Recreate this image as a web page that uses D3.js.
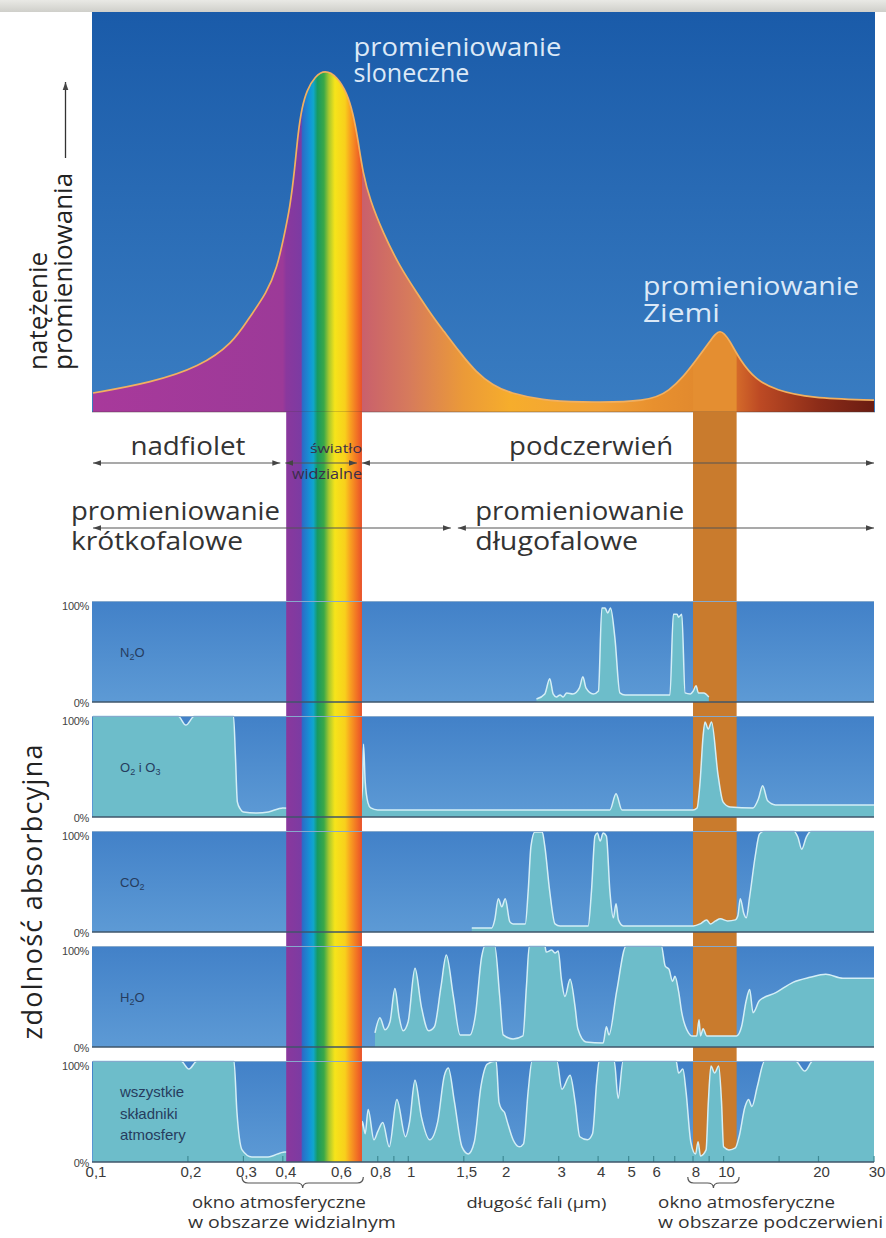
<!DOCTYPE html>
<html><head><meta charset="utf-8">
<script src="https://cdn.jsdelivr.net/npm/d3@7"></script>
<style>html,body{margin:0;padding:0;background:#fff}svg{display:block}</style>
</head><body>
<svg id="chart" width="886" height="1238"></svg>
<script>
// ---------------- data (wavelength in µm, values in %) ----------------
const tickValues = [0.1,0.2,0.3,0.4,0.6,0.8,1,1.5,2,3,4,5,6,8,10,20,30];
const tickLabels = ["0,1","0,2","0,3","0,4","0,6","0,8","1","1,5","2","3","4","5","6","8","10","20","30"];
const minorTicks = [0.2,0.3,0.4,0.5,0.6,0.7,0.8,0.9,1,1.5,2,3,4,5,6,7,8,9,10,15,20,30];

const intensityWl  = [0.1,0.152,0.218,0.278,0.311,0.356,0.384,0.401,0.422,0.437,0.447,0.46,0.477,0.506,0.544,0.594,0.639,0.668,0.693,0.718,0.756,0.832,0.941,1.066,1.198,1.288,1.459,1.639,1.856,2.1,2.67,3.4,5.84,6.76,7.44,8.18,9.08,9.74,10.48,11.27,12.67,14.66,18.79,30];
const intensityVal = [5.6,8.6,13.3,20.4,27.5,35.1,42.8,50.7,60.5,72.3,82.3,89.9,95,99,101,99,94.1,88.2,80.2,70.5,62.5,52.8,42.8,35.1,28,24.2,17.5,11.8,7.8,5.6,3.5,2.9,2.9,6.5,10.3,15.3,21,25,21,15.3,9.4,6.5,4.1,3.5];

const n2oWl  = [2.55,2.71,2.81,2.88,2.95,3.03,3.10,3.18,3.33,3.49,3.58,3.66,3.86,4.01,4.11,4.21,4.29,4.38,4.52,4.69,4.87,6.76,6.93,7.12,7.20,7.37,7.55,7.84,8.02,8.18,8.32,8.65,8.98];
const n2oAbs = [3,8,23,8,5,7,5,9,8,14,25,14,8,11,93,93,88,93,64,9,7,7,87,87,84,87,9,8,11,16,9,9,5];

const o3Wl  = [0.1,0.186,0.197,0.21,0.279,0.283,0.287,0.293,0.30,0.33,0.36,0.40,0.50,0.70,0.716,0.721,0.73,0.745,0.76,0.80,4.36,4.56,4.76,8.0,8.24,8.42,8.61,8.73,8.94,9.16,9.6,9.96,10.48,12.4,12.9,13.3,13.8,14.6,30];
const o3Abs = [100,100,91,100,100,60,15,8,5,4,5,9,8,7,30,72,35,14,9,7,7,23,7,7,9,34,80,94,87,94,42,15,10,9,18,31,16,12,12];

const co2Wl  = [1.59,1.84,1.88,1.93,1.98,2.03,2.10,2.15,2.35,2.40,2.45,2.52,2.66,2.71,2.81,2.92,3.03,3.72,3.81,3.91,3.98,4.06,4.15,4.25,4.36,4.47,4.56,4.64,4.81,8.02,8.42,8.84,9.08,9.43,9.77,10.3,10.9,11.1,11.3,11.6,11.8,12.1,12.6,13.0,13.5,16.7,17.2,17.7,18.3,19.0,30];
const co2Abs = [4,4,12,33,25,33,10,8,8,40,85,99,99,85,40,8,6,6,40,95,98,90,98,95,40,14,28,12,6,6,8,12,8,11,13,11,12,16,33,18,14,35,75,97,100,100,94,82,94,100,100];

const h2oWl  = [0.784,0.813,0.844,0.875,0.907,0.935,0.963,0.999,1.05,1.10,1.16,1.21,1.27,1.32,1.39,1.46,1.57,1.63,1.71,1.75,1.88,1.95,2.00,2.15,2.31,2.37,2.42,2.71,2.74,2.85,2.92,2.99,3.06,3.14,3.26,3.38,3.45,3.66,4.15,4.25,4.33,4.58,4.91,6.35,6.53,6.71,6.89,7.01,7.2,7.37,7.74,7.93,8.22,8.36,8.45,8.61,8.84,11.0,11.4,11.8,12.1,12.4,13.0,14.7,16.6,18.8,21.1,23.9,30];
const h2oAbs = [14,29,17,25,58,30,16,25,78,40,16,20,60,91,50,12,12,30,90,100,100,50,12,8,11,60,100,100,94,96,93,95,67,50,67,40,18,5,4,20,12,55,100,100,80,77,65,70,55,34,14,11,11,27,11,18,11,11,20,46,57,34,46,54,64,69,72,68,68];

const allWl  = [0.1,0.19,0.2015,0.214,0.28,0.286,0.297,0.319,0.359,0.406,0.55,0.70,0.715,0.73,0.746,0.778,0.80,0.83,0.87,0.92,0.98,1.01,1.05,1.10,1.17,1.24,1.30,1.34,1.40,1.48,1.55,1.62,1.70,1.78,1.90,1.94,1.98,2.02,2.06,2.15,2.25,2.32,2.40,2.47,2.96,3.07,3.26,3.38,3.5,3.7,3.84,3.96,4.03,4.5,4.63,4.8,7.07,7.2,7.43,7.6,7.87,8.15,8.3,8.45,8.8,8.95,9.12,9.37,9.65,9.85,10.0,10.4,10.9,11.2,11.7,12.0,12.3,12.8,13.5,16.9,18.1,19.2,30];
const allAbs = [100,100,92,100,100,50,12,5,5,10,8,10,40,28,52,22,30,39,15,62,25,40,81,45,22,40,85,93,60,15,8,20,75,97,100,59,52,49,40,22,15,18,70,100,100,72,86,60,25,22,28,80,100,100,63,100,100,88,92,70,20,8,20,6,12,60,95,88,95,60,15,12,14,25,55,62,55,75,100,100,90,100,100];

const panelNames = [["N","2","O"],["O","2"," i O","3"],["CO","2"],["H","2","O"],["wszystkie","składniki","atmosfery"]];
const visibleRange = [0.41, 0.713];     // visible light band
const irWindow     = [8, 11];           // infrared window band
const row1Ranges   = [[0.1,0.4],[0.4,0.7],[0.7,30]];
const row2Ranges   = [[0.1,1.4],[1.4,30]];

// ---------------- drawing ----------------
const svg = d3.select("#chart");
const FONT = "'Open Sans','Noto Sans','DejaVu Sans',sans-serif";
const SMALL = "'Liberation Sans','Arial',sans-serif";
const x = d3.scaleLog().domain([0.1,30]).range([93,874]);
const X0 = 93, X1 = 874;
const defs = svg.append("defs");

function linGrad(id, stops, attrs){
  const g = defs.append("linearGradient").attr("id",id);
  Object.entries(attrs).forEach(([k,v])=>g.attr(k,v));
  stops.forEach(([o,c])=>g.append("stop").attr("offset",o).attr("stop-color",c));
}
linGrad("hdr",[[0,"#e9e9e5"],[1,"#cfcfca"]],{x1:0,y1:0,x2:0,y2:1});
linGrad("topbg",[[0,"#1a5ba9"],[1,"#3a7dc2"]],{x1:0,y1:0,x2:0,y2:1});
linGrad("pbg",[[0,"#4281c8"],[1,"#5d9ad5"]],{x1:0,y1:0,x2:0,y2:1});
const specStops = [[0.1,"#a8399b"],[0.40,"#9c3a98"],[0.41,"#8a389d"],[0.457,"#7c3ba2"],[0.462,"#2b6cc8"],[0.49,"#1298d6"],[0.50,"#10a6cc"],[0.515,"#179a62"],[0.54,"#3aa848"],[0.56,"#a9c82e"],[0.585,"#f6e41a"],[0.63,"#f8d01c"],[0.655,"#f8a020"],[0.685,"#f27424"],[0.713,"#e8502a"],[0.7135,"#c9606c"],[1.0,"#d67a5c"],[1.5,"#eb9a38"],[2.1,"#f6ad2c"],[4.0,"#f2a238"],[6.0,"#e8902e"],[8.0,"#e28a2e"],[11,"#d46a2a"],[13,"#bd4a24"],[20,"#8c2c18"],[30,"#6a1c12"]];
linGrad("spec", specStops.map(([w,c])=>[(x(w)-X0)/(X1-X0), c]),
  {gradientUnits:"userSpaceOnUse", x1:X0, y1:0, x2:X1, y2:0});

const mk = defs.append("marker").attr("id","ah").attr("viewBox","0 0 10 10")
  .attr("refX",10).attr("refY",5).attr("markerWidth",8).attr("markerHeight",8)
  .attr("markerUnits","userSpaceOnUse").attr("orient","auto-start-reverse");
mk.append("path").attr("d","M0,1.5 L10,5 L0,8.5 Z").attr("fill","#454545");

// header strip
svg.append("rect").attr("x",0).attr("y",0).attr("width",886).attr("height",12).attr("fill","url(#hdr)");

// ---- top panel: radiation intensity ----
const TOPY0 = 12, TOPY1 = 412;
svg.append("rect").attr("x",92).attr("y",TOPY0).attr("width",783).attr("height",TOPY1-TOPY0).attr("fill","url(#topbg)");
const yI = d3.scaleLinear().domain([0,100]).range([TOPY1,73]);
const intensity = intensityWl.map((w,i)=>({w, v:intensityVal[i]}));
const smooth = d3.curveBasis;
const tArea = d3.area().x(d=>x(d.w)).y0(TOPY1).y1(d=>yI(d.v)).curve(smooth);
const tLine = d3.line().x(d=>x(d.w)).y(d=>yI(d.v)).curve(smooth);
defs.append("clipPath").attr("id","topclip").append("path").attr("d",tArea(intensity));
svg.append("path").attr("d",tArea(intensity)).attr("fill","url(#spec)");
svg.append("rect").attr("x",x(irWindow[0])).attr("width",x(irWindow[1])-x(irWindow[0]))
  .attr("y",TOPY0).attr("height",TOPY1-TOPY0).attr("fill","#e48e31").attr("clip-path","url(#topclip)");
svg.append("path").attr("d",tLine(intensity)).attr("fill","none").attr("stroke","#f2b060").attr("stroke-width",1.7);
svg.append("line").attr("x1",92).attr("x2",875).attr("y1",TOPY1).attr("y2",TOPY1).attr("stroke","#4a3a3a").attr("stroke-opacity",0.45);

// top labels
function multiText(xp, yp, lines, lh, size, fill, len){
  const t = svg.append("text").attr("x",xp).attr("y",yp).attr("font-family",FONT)
    .attr("font-size",size).attr("fill",fill);
  lines.forEach((s,i)=>{
    const ts = t.append("tspan").attr("x",xp).attr("dy",i?lh:0).text(s);
    if (len && len[i]) ts.attr("textLength",len[i]).attr("lengthAdjust","spacingAndGlyphs");
  });
  return t;
}
multiText(x(0.67), 56, ["promieniowanie","sloneczne"], 26, 25, "#dce9f7", [208,116]);
multiText(x(5.55), 295, ["promieniowanie","Ziemi"], 27, 25, "#dce9f7", [216,77]);

// left vertical title with arrow
svg.append("text").attr("transform","translate(47,370) rotate(-90)").attr("font-family",FONT)
  .attr("font-size",26).attr("fill","#222").text("natężenie");
svg.append("text").attr("transform","translate(72,370) rotate(-90)").attr("font-family",FONT)
  .attr("font-size",26).attr("fill","#222").text("promieniowania");
svg.append("line").attr("x1",65.5).attr("x2",65.5).attr("y1",158).attr("y2",82)
  .attr("stroke","#333").attr("stroke-width",1.3).attr("marker-end","url(#ah)");

// ---- absorption panels ----
const P_TOP0 = 601, P_STEP = 115, P_H = 101;
const series = [[n2oWl,n2oAbs],[o3Wl,o3Abs],[co2Wl,co2Abs],[h2oWl,h2oAbs],[allWl,allAbs]];
const panels = series.map((s,i)=>{
  const top = P_TOP0 + i*P_STEP, bot = top + P_H;
  return {top, bot, y: d3.scaleLinear().domain([0,100]).range([bot, top]),
          data: s[0].map((w,j)=>({w, v:s[1][j]}))};
});
const BAND_Y0 = TOPY1, BAND_Y1 = panels[4].bot;

panels.forEach(p=>{
  svg.append("rect").attr("x",92).attr("y",p.top).attr("width",782).attr("height",P_H).attr("fill","url(#pbg)");
});
// infrared window band (under absorption fills)
svg.append("rect").attr("x",x(irWindow[0])).attr("width",x(irWindow[1])-x(irWindow[0]))
  .attr("y",BAND_Y0).attr("height",BAND_Y1-BAND_Y0).attr("fill","#c97b2d");

panels.forEach(p=>{
  const a = d3.area().x(d=>x(d.w)).y0(p.bot).y1(d=>p.y(d.v)).curve(d3.curveMonotoneX);
  const l = d3.line().x(d=>x(d.w)).y(d=>p.y(d.v)).curve(d3.curveMonotoneX);
  svg.append("path").attr("d",a(p.data)).attr("fill","#6dbdca");
  svg.append("path").attr("d",l(p.data)).attr("fill","none").attr("stroke","#d4eef6").attr("stroke-width",1.5);
});

// minor ticks in bottom panel
const last = panels[4];
svg.append("g").selectAll("line").data(minorTicks).join("line")
  .attr("x1",d=>x(d)).attr("x2",d=>x(d)).attr("y1",last.bot).attr("y2",last.bot-6)
  .attr("stroke","#3e8a95").attr("stroke-width",1.2);

// visible light band on top
svg.append("rect").attr("x",x(visibleRange[0])).attr("width",x(visibleRange[1])-x(visibleRange[0]))
  .attr("y",BAND_Y0).attr("height",BAND_Y1-BAND_Y0).attr("fill","url(#spec)");

// panel borders and labels
panels.forEach((p,i)=>{
  svg.append("line").attr("x1",92).attr("x2",874).attr("y1",p.top+0.5).attr("y2",p.top+0.5).attr("stroke","#86a9cc").attr("stroke-width",1);
  svg.append("line").attr("x1",92).attr("x2",874).attr("y1",p.bot).attr("y2",p.bot).attr("stroke","#3f566a").attr("stroke-width",1.3);
  svg.append("text").attr("x",89).attr("y",p.top+9).attr("text-anchor","end").attr("font-family",SMALL)
    .attr("font-size",11).attr("letter-spacing",-0.3).attr("fill","#444").text("100%");
  svg.append("text").attr("x",89).attr("y",p.bot+5).attr("text-anchor","end").attr("font-family",SMALL)
    .attr("font-size",11).attr("letter-spacing",-0.3).attr("fill","#444").text("0%");
  const nm = panelNames[i];
  if (i < 4){
    const t = svg.append("text").attr("x",120).attr("y",p.top+56).attr("font-family",SMALL)
      .attr("font-size",13).attr("fill","#263c5e");
    nm.forEach((s,k)=>{
      const sub = (k%2===1);
      t.append("tspan").attr("font-size",sub?9:13).attr("dy",sub?3:(k>0?-3:0)).text(s);
    });
  } else {
    nm.forEach((s,k)=>svg.append("text").attr("x",120).attr("y",p.top+36+k*21.5)
      .attr("font-family",SMALL).attr("font-size",15).attr("fill","#263c5e").text(s));
  }
});

// y-axis title for absorption
svg.append("text").attr("transform","translate(42,892) rotate(-90)").attr("text-anchor","middle")
  .attr("font-family",FONT).attr("font-size",27).attr("fill","#222")
  .attr("textLength",295).attr("lengthAdjust","spacing").text("zdolność absorbcyjna");

// ---- spectral range arrows ----
function arrowRow(ranges, yp, gap){
  ranges.forEach(([a,b])=>{
    const x1 = x(a) + (a===0.1?0:gap), x2 = x(b) - (b===30?0:gap);
    svg.append("line").attr("x1",x1).attr("x2",x2).attr("y1",yp).attr("y2",yp)
      .attr("stroke","#555").attr("stroke-width",1.2)
      .attr("marker-start","url(#ah)").attr("marker-end","url(#ah)");
  });
}
arrowRow(row1Ranges, 463, 2.5);
arrowRow(row2Ranges, 528, 3.5);

function lab(xp, yp, s, size, anchor, fill, len){
  const t = svg.append("text").attr("x",xp).attr("y",yp).attr("font-family",FONT)
    .attr("font-size",size).attr("fill",fill||"#333").attr("text-anchor",anchor||"start").text(s);
  if (len) t.attr("textLength",len).attr("lengthAdjust","spacingAndGlyphs");
  return t;
}
lab(x(0.2), 455, "nadfiolet", 26, "middle", "#333", 115);
lab(x(3.8), 455, "podczerwień", 26, "middle", "#333", 164);
lab(x(0.713), 453, "światło", 13, "end", "#3a2d4a", 52);
lab(x(0.713), 479, "widzialne", 14, "end", "#3a2d4a", 70);
lab(71, 520, "promieniowanie", 26, "start", "#333", 209);
lab(71, 550, "krótkofalowe", 26, "start", "#333", 172);
lab(x(1.63), 520, "promieniowanie", 26, "start", "#333", 209);
lab(x(1.63), 550, "długofalowe", 26, "start", "#333", 163);

// ---- x axis labels ----
svg.append("g").selectAll("text").data(tickValues).join("text")
  .attr("x",d=>x(d)+3).attr("y",last.bot+15).attr("text-anchor","middle")
  .attr("font-family",SMALL).attr("font-size",15).attr("fill","#3a3a3a")
  .text((d,i)=>tickLabels[i]);

// braces
function brace(xa, xb, y0){
  const m = (xa+xb)/2, y1 = y0+6, y2 = y0+11, r = 6;
  const p = d3.path();
  p.moveTo(xa, y0); p.quadraticCurveTo(xa, y1, xa+r, y1); p.lineTo(m-r, y1);
  p.quadraticCurveTo(m, y1, m, y2); p.quadraticCurveTo(m, y1, m+r, y1);
  p.lineTo(xb-r, y1); p.quadraticCurveTo(xb, y1, xb, y0);
  svg.append("path").attr("d",p.toString()).attr("fill","none").attr("stroke","#555").attr("stroke-width",1.2);
}
brace(x(0.297), x(0.72), 1177);
brace(x(7.7), x(11.2), 1177);

lab(x(0.206), 1208, "okno atmosferyczne", 16, "start", "#333", 174);
lab(x(0.2), 1228, "w obszarze widzialnym", 16, "start", "#333", 208);
lab(x(1.53), 1208, "długość fali (µm)", 15, "start", "#333", 140);
lab(x(6.2), 1208, "okno atmosferyczne", 16, "start", "#333", 177);
lab(x(6.2), 1228, "w obszarze podczerwieni", 16, "start", "#333", 225);
</script>
</body></html>
